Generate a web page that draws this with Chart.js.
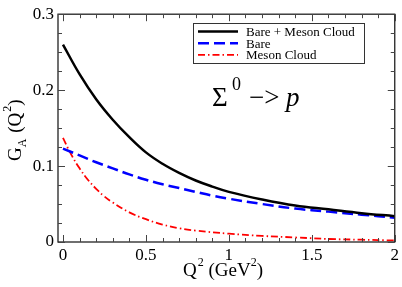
<!DOCTYPE html>
<html>
<head>
<meta charset="utf-8">
<script src="https://cdn.jsdelivr.net/npm/chart.js@4.4.1/dist/chart.umd.min.js"></script>
<style>
  html, body { margin: 0; padding: 0; background: #fff; }
  #wrap { width: 402px; height: 287px; }
</style>
</head>
<body>
<div id="wrap"><canvas id="c" width="402" height="287"></canvas></div>
<script>
// ---- data ----
const q2Total = [0, 0.1, 0.2, 0.3, 0.4, 0.5, 0.6, 0.7, 0.8, 0.9, 1.0, 1.2, 1.4, 1.6, 1.8, 2.0];
const gaTotal = [0.260, 0.221, 0.188, 0.161, 0.138, 0.118, 0.103, 0.091, 0.081, 0.073, 0.066, 0.056, 0.048, 0.043, 0.038, 0.034];

const q2Bare = [0, 0.1, 0.2, 0.3, 0.4, 0.5, 0.6, 0.7, 0.8, 0.9, 1.0, 1.2, 1.4, 1.6, 1.8, 2.0];
const gaBare = [0.123, 0.114, 0.105, 0.097, 0.089, 0.082, 0.076, 0.071, 0.066, 0.061, 0.057, 0.050, 0.044, 0.040, 0.036, 0.032];

const q2Cloud = [0, 0.05, 0.1, 0.15, 0.2, 0.25, 0.3, 0.4, 0.5, 0.6, 0.7, 0.8, 1.0, 1.2, 1.4, 1.6, 1.8, 2.0];
const gaCloud = [0.137, 0.115, 0.097, 0.082, 0.070, 0.060, 0.052, 0.039, 0.030, 0.023, 0.018, 0.015, 0.011, 0.008, 0.006, 0.004, 0.003, 0.002];

const xTicks = [0, 0.5, 1, 1.5, 2];
const yTicks = [0, 0.1, 0.2, 0.3];
const seriesNames = ['Bare + Meson Cloud', 'Bare', 'Meson Cloud'];

const serif = '"Liberation Serif", "DejaVu Serif", serif';

function pts(xs, ys) { return xs.map((x, i) => ({ x: x, y: ys[i] })); }

const framePlugin = {
  id: 'frame',
  afterDraw(chart) {
    const ctx = chart.ctx;
    const a = chart.chartArea;
    const xs = chart.scales.x, ys = chart.scales.y;
    ctx.save();
    // frame
    ctx.strokeStyle = '#222';
    ctx.lineWidth = 1.3;
    ctx.strokeRect(a.left, a.top, a.right - a.left, a.bottom - a.top);
    // inward ticks
    ctx.lineWidth = 1;
    ctx.strokeStyle = '#444';
    function xt(v, len) {
      const p = Math.round(xs.getPixelForValue(v)) + 0.5;
      ctx.beginPath();
      ctx.moveTo(p, a.bottom); ctx.lineTo(p, a.bottom - len);
      ctx.moveTo(p, a.top); ctx.lineTo(p, a.top + len);
      ctx.stroke();
    }
    function yt(v, len) {
      const p = Math.round(ys.getPixelForValue(v)) + 0.5;
      ctx.beginPath();
      ctx.moveTo(a.left, p); ctx.lineTo(a.left + len, p);
      ctx.moveTo(a.right, p); ctx.lineTo(a.right - len, p);
      ctx.stroke();
    }
    for (let i = 0; i <= 20; i++) {
      const v = i / 10;
      const major = xTicks.some(t => Math.abs(t - v) < 1e-9);
      xt(v, major ? 7 : 4);
    }
    for (let i = 0; i <= 12; i++) {
      const v = i * 0.025;
      const major = yTicks.some(t => Math.abs(t - v) < 1e-9);
      yt(v, major ? 7 : 4);
    }

    // legend
    const lx = 193, ly = 23, lw = 171, lh = 40;
    ctx.fillStyle = '#fff';
    ctx.fillRect(lx, ly, lw, lh);
    ctx.strokeStyle = '#333';
    ctx.lineWidth = 1;
    ctx.strokeRect(lx + 0.5, ly + 0.5, lw, lh);
    ctx.font = '13px ' + serif;
    ctx.textBaseline = 'middle';
    ctx.textAlign = 'left';
    chart.data.datasets.forEach((ds, i) => {
      const y = 31.5 + i * 11.7;
      ctx.beginPath();
      ctx.strokeStyle = ds.borderColor;
      ctx.lineWidth = ds.borderWidth;
      ctx.setLineDash(ds.borderDash || []);
      ctx.moveTo(198, y); ctx.lineTo(238, y);
      ctx.stroke();
      ctx.setLineDash([]);
      ctx.fillStyle = '#000';
      ctx.fillText(seriesNames[i], 246, y + 1);
    });

    // annotation
    ctx.fillStyle = '#000';
    ctx.textBaseline = 'alphabetic';
    ctx.font = '27px ' + serif;
    ctx.fillText('\u03A3', 212, 106);
    ctx.font = '18px ' + serif;
    ctx.fillText('0', 232, 90);
    ctx.font = '27px ' + serif;
    ctx.fillText('\u2212>', 249, 106);
    ctx.font = 'italic 27px ' + serif;
    ctx.fillText('p', 286, 106);

    // x axis title: Q^2 (GeV^2)
    ctx.font = '19px ' + serif;
    let x = 183;
    const by = 276;
    ctx.fillText('Q', x, by); x += ctx.measureText('Q').width;
    ctx.font = '12px ' + serif;
    ctx.fillText('2', x + 1, by - 10); x += ctx.measureText('2').width + 1;
    ctx.font = '19px ' + serif;
    ctx.fillText(' (GeV', x, by); x += ctx.measureText(' (GeV').width;
    ctx.font = '12px ' + serif;
    ctx.fillText('2', x, by - 10); x += ctx.measureText('2').width;
    ctx.font = '19px ' + serif;
    ctx.fillText(')', x, by);

    // y axis title: G_A (Q^2), rotated
    ctx.translate(21, 161);
    ctx.rotate(-Math.PI / 2);
    x = 0;
    ctx.font = '19px ' + serif;
    ctx.fillText('G', x, 0); x += ctx.measureText('G').width;
    ctx.font = '12px ' + serif;
    ctx.fillText('A', x, 5); x += ctx.measureText('A').width + 1;
    ctx.font = '19px ' + serif;
    ctx.fillText(' (Q', x, 0); x += ctx.measureText(' (Q').width;
    ctx.font = '12px ' + serif;
    ctx.fillText('2', x + 1, -10); x += ctx.measureText('2').width + 1;
    ctx.font = '19px ' + serif;
    ctx.fillText(')', x, 0);
    ctx.restore();
  }
};

new Chart(document.getElementById('c'), {
  type: 'line',
  data: {
    datasets: [
      { label: seriesNames[0], data: pts(q2Total, gaTotal), borderColor: '#000000', borderWidth: 2.5, tension: 0.4 },
      { label: seriesNames[1], data: pts(q2Bare, gaBare), borderColor: '#0000ff', borderWidth: 2.5, borderDash: [11, 5], tension: 0.4 },
      { label: seriesNames[2], data: pts(q2Cloud, gaCloud), borderColor: '#ff0000', borderWidth: 1.8, borderDash: [7, 3, 1.5, 3], tension: 0.4 }
    ]
  },
  options: {
    responsive: false,
    animation: false,
    devicePixelRatio: 1,
    layout: { padding: { top: 6, right: 6, left: 0, bottom: 0 } },
    elements: { point: { radius: 0 } },
    plugins: { legend: { display: false }, tooltip: { enabled: false } },
    scales: {
      x: {
        type: 'linear', min: -0.03, max: 2,
        grid: { display: false, drawTicks: false },
        border: { display: false },
        afterBuildTicks: s => { s.ticks = xTicks.map(v => ({ value: v })); },
        afterFit: s => { s.height = 45; },
        ticks: { color: '#000', font: { family: serif, size: 17 }, padding: 3, maxRotation: 0, autoSkip: false, callback: v => String(v) }
      },
      y: {
        type: 'linear', min: 0, max: 0.3,
        grid: { display: false, drawTicks: false },
        border: { display: false },
        afterBuildTicks: s => { s.ticks = yTicks.map(v => ({ value: v })); },
        afterFit: s => { s.width = 58; },
        ticks: { color: '#000', font: { family: serif, size: 17 }, padding: 4, autoSkip: false, callback: v => String(v) }
      }
    }
  },
  plugins: [framePlugin]
});
</script>
</body>
</html>
